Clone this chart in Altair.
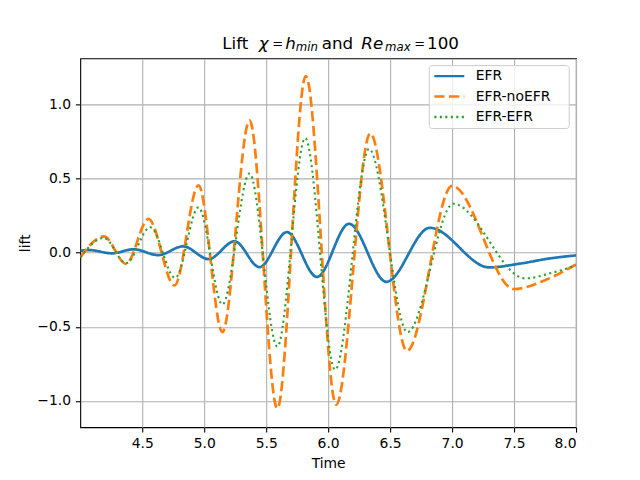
import altair as alt
import pandas as pd

# ---- data ----
series_names = ["EFR", "EFR-noEFR", "EFR-EFR"]

t_efr = [4.0, 4.07, 4.255, 4.43, 4.63, 4.83, 5.035, 5.245, 5.446, 5.667, 5.91,
         6.168, 6.47, 6.82, 7.3, 7.55, 7.8, 8.0]
lift_efr = [0.013, 0.018, -0.004, 0.023, -0.016, 0.043, -0.043, 0.077, -0.097,
            0.139, -0.163, 0.195, -0.196, 0.168, -0.099, -0.073, -0.037, -0.018]

t_noefr = [4.0, 4.19, 4.37, 4.55, 4.76, 4.954, 5.147, 5.366, 5.59, 5.82, 6.065,
           6.34, 6.636, 7.0, 7.5, 7.75, 8.0]
lift_noefr = [-0.031, 0.110, -0.075, 0.228, -0.221, 0.455, -0.535, 0.893, -1.050,
              1.192, -1.025, 0.805, -0.662, 0.451, -0.245, -0.185, -0.079]

t_efrefr = [4.0, 4.19, 4.37, 4.565, 4.766, 4.954, 5.147, 5.366, 5.59, 5.815,
            6.056, 6.33, 6.64, 7.01, 7.59, 7.8, 8.0]
lift_efrefr = [-0.031, 0.100, -0.070, 0.172, -0.170, 0.306, -0.349, 0.534, -0.633,
               0.773, -0.789, 0.700, -0.536, 0.330, -0.173, -0.137, -0.086]

x_ticks = [4.5, 5.0, 5.5, 6.0, 6.5, 7.0, 7.5, 8.0]
y_ticks = [-1.0, -0.5, 0.0, 0.5, 1.0]

frames = []
for name, ts, vs in [(series_names[0], t_efr, lift_efr),
                     (series_names[1], t_noefr, lift_noefr),
                     (series_names[2], t_efrefr, lift_efrefr)]:
    frames.append(pd.DataFrame({"Time": ts, "lift": vs, "series": name}))
df = pd.concat(frames, ignore_index=True)

FONT = "DejaVu Sans"
colors = ["#1f77b4", "#ff7f0e", "#2ca02c"]
dashes = [[1, 0], [10.3, 4.4], [2.1, 3.4]]
widths = [2.7, 2.7, 2.1]

W, H = 496, 369
NB = "\u00a0"

legend = alt.Legend(
    title=NB, titleOrient="right", titlePadding=14, titleFontSize=1,
    orient="none", legendX=348.7, legendY=6.7,
    fillColor="rgba(255,255,255,0.8)", strokeColor="#cccccc", cornerRadius=3,
    padding=4, symbolType="stroke", symbolSize=900, symbolStrokeWidth=2.4,
    labelFontSize=13.9, labelFont=FONT, labelColor="black", labelOffset=10,
    rowPadding=6.5, clipHeight=14,
)

x_enc = alt.X("Time:Q", scale=alt.Scale(domain=[4.0, 8.0], nice=False, zero=False),
              axis=alt.Axis(values=x_ticks, format=".1f", title="Time"))
y_enc = alt.Y("lift:Q", scale=alt.Scale(domain=[-1.177, 1.311], nice=False, zero=False),
              axis=alt.Axis(values=y_ticks, format=".1f", title="lift"))
color_enc = alt.Color("series:N", scale=alt.Scale(domain=series_names, range=colors),
                      legend=legend)
dash_enc = alt.StrokeDash("series:N", scale=alt.Scale(domain=series_names, range=dashes),
                          legend=legend)

layers = []
for name, sw in zip(series_names, widths):
    layers.append(
        alt.Chart(df).transform_filter(alt.datum.series == name)
        .mark_line(interpolate="monotone", strokeWidth=sw, clip=True)
        .encode(x=x_enc, y=y_enc, color=color_enc, strokeDash=dash_enc)
    )

# title made of pieces (math-text style)
one = pd.DataFrame({"k": [0]})
def piece(txt, x, y, size=16.7, italic=False):
    return alt.Chart(one).mark_text(
        text=txt, align="left", baseline="alphabetic", font=FONT, fontSize=size,
        fontStyle="italic" if italic else "normal", color="black",
    ).encode(x=alt.value(x), y=alt.value(y))

TB = -9.6   # main baseline relative to plot top
SB = -7.4   # subscript baseline
EB = -10.6  # baseline of the smaller "=" sign
title_layers = [
    piece("Lift", 142.0, TB),
    piece("\u03c7", 178.5, TB, italic=True),
    piece("=", 192.2, EB, size=13),
    piece("h", 205.2, TB, italic=True),
    piece("min", 215.6, SB, size=11.7, italic=True),
    piece("and", 241.6, TB),
    piece("Re", 281.2, TB, italic=True),
    piece("max", 305.0, SB, size=11.7, italic=True),
    piece("=", 334.2, EB, size=13),
    piece("100", 347.0, TB),
]

chart = alt.layer(*layers, *title_layers).properties(
    width=W, height=H,
    autosize=alt.AutoSizeParams(type="none"),
    padding={"left": 72.3, "top": 50.3, "right": 56, "bottom": 45},
).configure(font=FONT).configure_view(
    stroke="black", strokeWidth=1.1
).configure_axis(
    grid=True, gridColor="#b0b0b0", gridWidth=1.1, domain=False,
    tickColor="black", tickSize=4.9, tickWidth=1.1,
    labelFont=FONT, labelFontSize=13.9, labelColor="black", labelPadding=4.9,
    titleFont=FONT, titleFontSize=13.9, titleColor="black", titleFontWeight="normal",
).configure_axisX(titlePadding=5.5).configure_axisY(titlePadding=4)

chart.save("out.html", embed_options={"renderer": "svg", "actions": False})
